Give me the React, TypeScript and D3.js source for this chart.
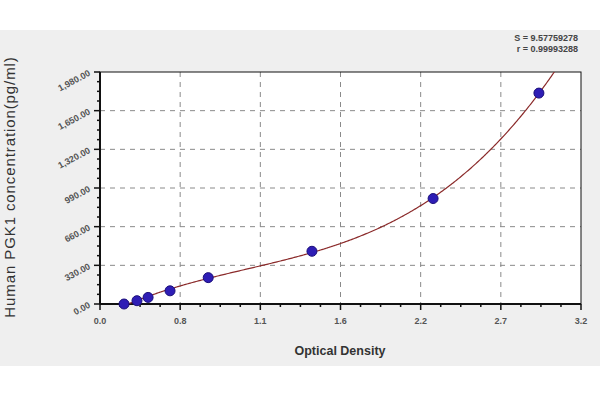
import React from "react";
import * as d3 from "d3";

const odValues = [0.16, 0.246, 0.32, 0.466, 0.72, 1.41, 2.216, 2.92];
const concValues = [0, 28.1, 56.25, 112.5, 225, 450, 900, 1800];
const xTickValues = [0, 0.5333, 1.0667, 1.6, 2.1333, 2.6667, 3.2];
const xTickLabels = ["0.0", "0.8", "1.1", "1.6", "2.2", "2.7", "3.2"];
const yTickValues = [0, 330, 660, 990, 1320, 1650, 1980];
const yTickLabels = ["0.00", "330.00", "660.00", "990.00", "1,320.00", "1,650.00", "1,980.00"];
const statLines = ["S = 9.57759278", "r = 0.99993288"];

// least squares cubic fit of concentration vs OD
function fitCubic(xs: number[], ys: number[]) {
  const n = 4;
  const A: number[][] = Array.from({ length: n }, () => Array(n + 1).fill(0));
  xs.forEach((x, k) => {
    for (let i = 0; i < n; i++) {
      for (let j = 0; j < n; j++) A[i][j] += Math.pow(x, i + j);
      A[i][n] += ys[k] * Math.pow(x, i);
    }
  });
  for (let i = 0; i < n; i++) {
    let p = i;
    for (let r = i + 1; r < n; r++) if (Math.abs(A[r][i]) > Math.abs(A[p][i])) p = r;
    [A[i], A[p]] = [A[p], A[i]];
    for (let r = 0; r < n; r++) {
      if (r === i) continue;
      const f = A[r][i] / A[i][i];
      for (let c = i; c <= n; c++) A[r][c] -= f * A[i][c];
    }
  }
  const coef = A.map((row, i) => row[n] / row[i]);
  return (x: number) => coef.reduce((s, c, i) => s + c * Math.pow(x, i), 0);
}

export default function App() {
  const W = 600, H = 400;
  const left = 100, right = 581, top = 72, bottom = 304;
  const x = d3.scaleLinear().domain([0, 3.2]).range([left, right]);
  const y = d3.scaleLinear().domain([0, 1980]).range([bottom, top]);
  const f = fitCubic(odValues, concValues);
  const curvePts: [number, number][] = [];
  const x0 = odValues[0];
  for (let i = 0; i <= 400; i++) {
    const xv = x0 + (3.2 - x0) * (i / 400);
    const yv = f(xv);
    curvePts.push([xv, yv]);
    if (yv > 1980) break;
  }
  const line = d3.line<[number, number]>().x(d => x(d[0])).y(d => y(Math.max(0, d[1])));
  const xMinor = d3.range(0, 25).map(i => (3.2 / 24) * i);
  const yMinor = d3.range(0, 25).map(i => (1980 / 24) * i);
  const font = "Arial, 'Liberation Sans', sans-serif";

  return (
    <svg width={W} height={H} style={{ display: "block", position: "absolute", left: 0, top: 0 }}>
      <rect x={0} y={0} width={W} height={H} fill="#ffffff" />
      <rect x={0} y={30} width={W} height={336} fill="#efefef" />
      <defs>
        <clipPath id="plotclip">
          <rect x={left} y={top} width={right - left} height={bottom - top} />
        </clipPath>
      </defs>
      <rect x={left} y={top} width={right - left} height={bottom - top} fill="#ffffff" />
      {yTickValues.slice(1, -1).map(v => (
        <line key={"gy" + v} x1={left} x2={right} y1={y(v)} y2={y(v)} stroke="#8a8a8a" strokeDasharray="5,5" strokeWidth={1} />
      ))}
      {xTickValues.slice(1, -1).map(v => (
        <line key={"gx" + v} x1={x(v)} x2={x(v)} y1={top} y2={bottom} stroke="#8a8a8a" strokeDasharray="5,5" strokeWidth={1} />
      ))}
      <rect x={left} y={top} width={right - left} height={bottom - top} fill="none" stroke="#111" strokeWidth={1} />
      <line x1={left} x2={left} y1={top} y2={bottom} stroke="#111" strokeWidth={2} />
      <line x1={left} x2={right} y1={bottom} y2={bottom} stroke="#111" strokeWidth={2} />
      {xMinor.map((v, i) => (
        <line key={"xm" + i} x1={x(v)} x2={x(v)} y1={bottom} y2={bottom + (i % 4 === 0 ? 6 : 3)} stroke="#111" strokeWidth={1.5} />
      ))}
      {yMinor.map((v, i) => (
        <line key={"ym" + i} x1={left} x2={left - (i % 4 === 0 ? 6 : 3)} y1={y(v)} y2={y(v)} stroke="#111" strokeWidth={1.5} />
      ))}
      {xTickValues.map((v, i) => (
        <text key={"xl" + i} x={x(v)} y={bottom + 20} textAnchor="middle" fontSize={9} fontWeight="bold" fill="#555" fontFamily={font}>
          {xTickLabels[i]}
        </text>
      ))}
      {yTickValues.map((v, i) => (
        <text key={"yl" + i} x={0} y={0} textAnchor="end" fontSize={9} fontWeight="bold" fill="#555" fontFamily={font}
          transform={`translate(${left - 9},${y(v) + 3}) rotate(-28)`}>
          {yTickLabels[i]}
        </text>
      ))}
      <path d={line(curvePts) || ""} fill="none" stroke="#8b2b2b" strokeWidth={1.2} clipPath="url(#plotclip)" />
      {odValues.map((v, i) => (
        <circle key={"p" + i} cx={x(v)} cy={y(concValues[i])} r={5} fill="#2e1db5" stroke="#1b0f7a" strokeWidth={1} />
      ))}
      <text x={340} y={355} textAnchor="middle" fontSize={12.5} fontWeight="bold" fill="#333" fontFamily={font}>
        Optical Density
      </text>
      <text x={0} y={0} textAnchor="middle" fontSize={15} fill="#333" fontFamily={font} letterSpacing={0.9}
        transform={`translate(15,${187}) rotate(-90)`}>
        Human PGK1 concentration(pg/ml)
      </text>
      {statLines.map((s, i) => (
        <text key={"s" + i} x={578} y={41 + i * 11} textAnchor="end" fontSize={9} fontWeight="bold" fill="#444" fontFamily={font}>
          {s}
        </text>
      ))}
    </svg>
  );
}
